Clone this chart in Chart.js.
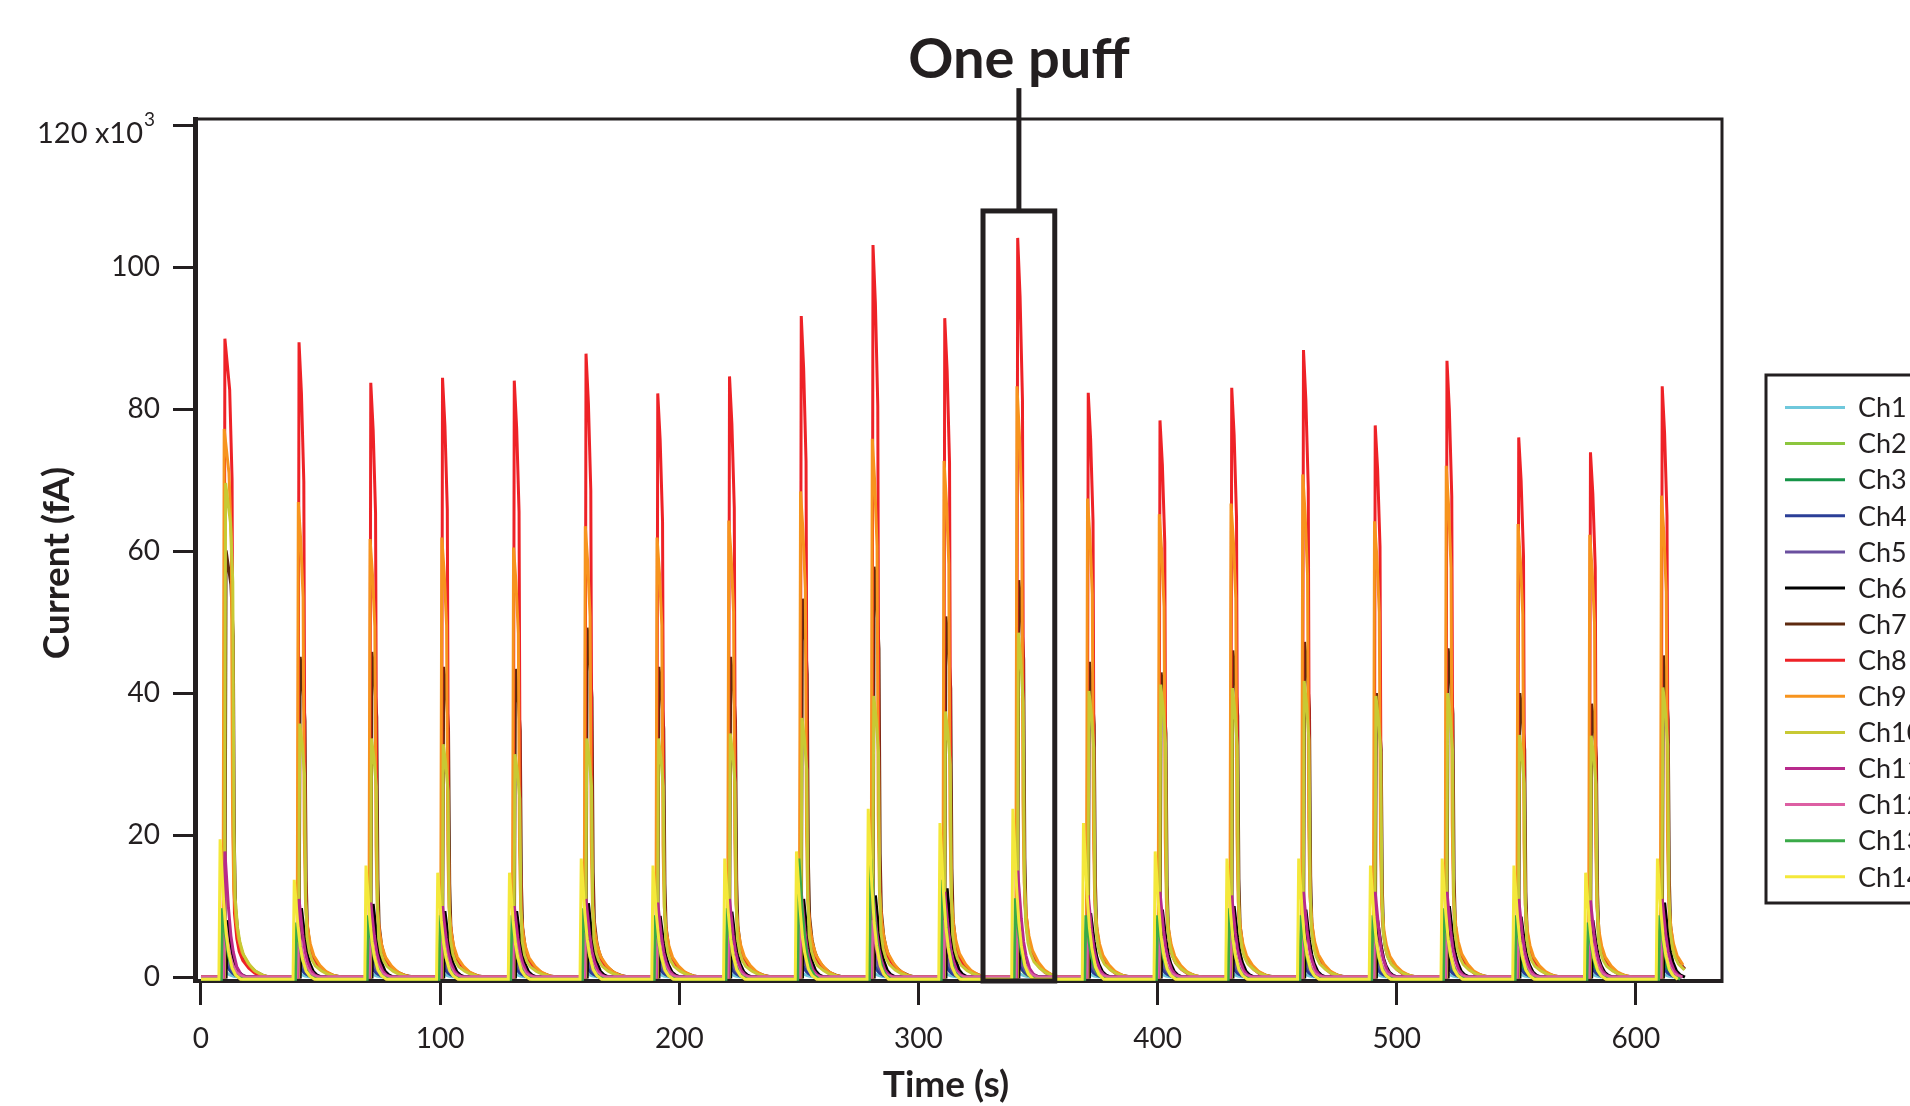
<!DOCTYPE html>
<html>
<head>
<meta charset="utf-8">
<title>Puff current per channel</title>
<script src="https://cdn.jsdelivr.net/npm/chart.js@4.4.1/dist/chart.umd.min.js"></script>
<style>
  html, body { margin: 0; padding: 0; background: #fff; }
  #wrap { width: 1910px; height: 1106px; }
</style>
</head>
<body>
<div id="wrap"><canvas id="puffs" width="1910" height="1106"></canvas></div>
<script>
var INK = '#231f20';
var FONT = 'Lato, "Noto Sans", sans-serif';

// puff onsets (s); puff 1 has a longer plateau
var puffStart = [9.5, 40.5, 70.5, 100.5, 130.5, 160.5, 190.5, 220.5, 250.5, 280.5, 310.5,
                 341, 370.5, 400.5, 430.5, 460.5, 490.5, 520.5, 550.5, 580.5, 610.5];
var puffHold = [1, 0, 0, 0, 0, 0, 0, 0, 0, 0, 0, 0, 0, 0, 0, 0, 0, 0, 0, 0, 0];
var recordEnd = 621.5;

// pulse profiles: seconds after onset / fraction of peak
var slowT  = [-0.5, 0, 0.5, 1.5, 2.5, 3, 3.5, 4.5, 5.5, 7, 9.5, 12, 15, 18];
var slowV  = [0, 0, 1, 0.92, 0.8, 0.3, 0.16, 0.1, 0.07, 0.045, 0.025, 0.012, 0.004, 0];
var sharpV = [0, 0, 1, 0.92, 0.78, 0.22, 0.1, 0.06, 0.04, 0.026, 0.014, 0.006, 0.002, 0];
var fastT  = [-0.5, 0, 0.5, 1, 2, 3, 4, 5.5, 7, 9];
var fastV  = [0, 0, 1, 0.85, 0.55, 0.33, 0.2, 0.08, 0.03, 0];

// peak current of each puff, x10^3 fA
var ch1Peaks  = [1.2, 0.8, 0.8, 0.8, 0.8, 0.9, 0.8, 0.8, 1.0, 1.0, 0.9, 1.0, 0.8, 0.8, 0.8, 0.8, 0.8, 0.8, 0.8, 0.8, 0.8];
var ch2Peaks  = [4, 3, 3, 3, 3, 3, 3, 3, 4, 4, 3.5, 3.5, 3, 3, 3, 3, 3, 3, 3, 3, 3];
var ch3Peaks  = [6, 5, 5, 5, 5, 5, 5, 5, 7, 7, 6, 6, 5, 5, 5, 5, 5, 5, 5, 5, 5];
var ch4Peaks  = [3, 2, 2, 2, 2, 2, 2, 2, 2.5, 2.5, 2.5, 3, 2, 2, 2, 2, 2, 2, 2, 2, 2];
var ch5Peaks  = [5, 4, 4, 4, 4, 4, 4, 4, 5, 5, 5, 5, 4, 4, 4, 4, 4, 5, 7, 6, 6];
var ch6Peaks  = [8, 9.7, 10.3, 9.3, 9.3, 10.4, 8.6, 9.2, 11, 11.5, 12.5, 6, 9, 9.5, 10, 9.5, 8, 10, 8.5, 8, 10.5];
var ch7Peaks  = [60.1, 45.1, 45.8, 43.7, 43.4, 49.2, 43.7, 45.1, 53.3, 57.8, 50.8, 55.9, 44.4, 42.9, 46, 47.2, 40, 46.3, 40, 38.5, 45.3];
var ch8Peaks  = [89.9, 89.4, 83.7, 84.4, 84, 87.8, 82.2, 84.6, 93.1, 103.1, 92.8, 104.1, 82.3, 78.4, 83, 88.3, 77.7, 86.8, 76, 73.9, 83.2];
var ch9Peaks  = [77.2, 66.9, 61.7, 61.9, 60.5, 63.5, 61.9, 64.3, 68.4, 75.8, 72.7, 83.2, 67.4, 65.2, 66.7, 70.8, 64.2, 72, 63.8, 62.3, 67.8];
var ch10Peaks = [69.6, 35.7, 33.6, 32.8, 31.4, 33.6, 33.6, 34.3, 36.5, 39.6, 37.4, 48.5, 40.3, 41.2, 40.7, 41.7, 39.6, 40, 34.1, 34, 40.8];
var ch11Peaks = [17.7, 11, 10.5, 10, 10, 11, 10.5, 11, 12, 12, 12, 15, 11.5, 12, 11.5, 12, 12, 12, 11, 10.8, 11];
var ch12Peaks = [9, 7, 7, 7, 7, 7, 7, 7, 8, 8, 8, 9, 7, 7, 7, 7, 7, 7, 7, 7, 7];
var ch13Peaks = [10, 8, 9, 9, 9, 10, 9, 10, 17, 17, 14, 11.4, 9, 9, 10, 9, 9, 10, 9, 8, 9];
var ch14Peaks = [19.7, 14, 16, 15, 15, 17, 16, 17, 18, 24, 22, 24, 22, 18, 17, 17, 16, 17, 16, 15, 17];

var channelNames  = ['Ch1', 'Ch2', 'Ch3', 'Ch4', 'Ch5', 'Ch6', 'Ch7', 'Ch8', 'Ch9', 'Ch10', 'Ch11', 'Ch12', 'Ch13', 'Ch14'];
var channelColors = ['#6fc8dc', '#8cc63e', '#159447', '#2b3f97', '#6a4f9f', '#000000', '#5e2a0f',
                     '#ee2227', '#f7941e', '#c8c934', '#b82a8c', '#dd5fa3', '#3aaa48', '#f4e83a'];
var channelPeaks  = [ch1Peaks, ch2Peaks, ch3Peaks, ch4Peaks, ch5Peaks, ch6Peaks, ch7Peaks,
                     ch8Peaks, ch9Peaks, ch10Peaks, ch11Peaks, ch12Peaks, ch13Peaks, ch14Peaks];
var channelLag    = [-1, -1, -1, -0.5, -0.5, 1, 0.5, 0, -0.3, 0.3, 0, -0.3, -1, -2];
var channelShape  = ['fast', 'fast', 'fast', 'fast', 'fast', 'fast', 'slow',
                     'sharp', 'slow', 'slow', 'fast', 'fast', 'fast', 'fast'];
var channelBase   = [0, 0, 0, 0, 0, 0, 0, 0, 0, 0, 0, 0, -0.3, -0.3];

var xTicks = [0, 100, 200, 300, 400, 500, 600];
var yTicks = [0, 20, 40, 60, 80, 100, 120];

// highlighted puff
var boxFrom = 327, boxTo = 357, boxTop = 107.9, leaderTop = 125.2;

function buildSeries(c) {
  var kind = channelShape[c];
  var slow = kind !== 'fast';
  var T = slow ? slowT : fastT;
  var V = kind === 'sharp' ? sharpV : (slow ? slowV : fastV);
  var base = channelBase[c];
  var pts = [{ x: 0, y: base }];
  puffStart.forEach(function (t0, p) {
    for (var k = 0; k < T.length; k++) {
      var hold = (slow && k > 2) ? puffHold[p] : 0;
      var x = t0 + channelLag[c] + T[k] + hold;
      if (x > recordEnd) break;
      pts.push({ x: x, y: base + channelPeaks[c][p] * V[k] });
    }
  });
  return pts;
}

var datasets = channelNames.map(function (name, c) {
  return {
    label: name,
    data: buildSeries(c),
    borderColor: channelColors[c],
    backgroundColor: channelColors[c],
    borderWidth: 3,
    pointRadius: 0,
    tension: 0,
    fill: false,
    order: channelNames.length - c
  };
});

var decorations = {
  id: 'decorations',
  afterDraw: function (chart) {
    var ctx = chart.ctx;
    var a = chart.chartArea;
    var xs = chart.scales.x, ys = chart.scales.y;
    ctx.save();
    ctx.strokeStyle = INK;
    ctx.fillStyle = INK;

    // top and right side of the frame
    ctx.lineWidth = 3;
    ctx.beginPath();
    ctx.moveTo(a.left - 2, a.top);
    ctx.lineTo(a.right, a.top);
    ctx.lineTo(a.right, a.bottom + 2);
    ctx.stroke();

    // top tick label with its exponent
    var y120 = ys.getPixelForValue(120);
    ctx.font = '29px ' + FONT;
    ctx.textAlign = 'right';
    ctx.textBaseline = 'alphabetic';
    ctx.fillText('120 x10', 143, y120 + 18);
    ctx.font = '19px ' + FONT;
    ctx.textAlign = 'left';
    ctx.fillText('3', 144, y120 + 1);

    // one-puff box with its leader
    var bx1 = xs.getPixelForValue(boxFrom), bx2 = xs.getPixelForValue(boxTo);
    var by = ys.getPixelForValue(boxTop);
    var mid = (bx1 + bx2) / 2;
    ctx.lineWidth = 5;
    ctx.strokeRect(bx1, by, bx2 - bx1, a.bottom - by);
    ctx.beginPath();
    ctx.moveTo(mid, by);
    ctx.lineTo(mid, ys.getPixelForValue(leaderTop));
    ctx.stroke();
    ctx.font = 'bold 56px ' + FONT;
    ctx.textAlign = 'center';
    ctx.fillText('One puff', mid, 78);

    // axis titles
    ctx.font = 'bold 37px ' + FONT;
    ctx.textBaseline = 'middle';
    ctx.fillText('Time (s)', 946, 1085);
    ctx.save();
    ctx.translate(57, 563);
    ctx.rotate(-Math.PI / 2);
    ctx.fillText('Current (fA)', 0, 0);
    ctx.restore();

    // legend
    var lx = 1766, ly = 375, lb = 903;
    ctx.lineWidth = 3;
    ctx.strokeRect(lx, ly, 200, lb - ly);
    ctx.font = '27px ' + FONT;
    ctx.textAlign = 'left';
    channelNames.forEach(function (name, c) {
      var y = 407.5 + c * 36.1;
      ctx.strokeStyle = channelColors[c];
      ctx.lineWidth = 3;
      ctx.beginPath();
      ctx.moveTo(1785, y);
      ctx.lineTo(1845, y);
      ctx.stroke();
      ctx.fillStyle = INK;
      ctx.fillText(name, 1858, y + 1);
    });
    ctx.restore();
  }
};

Chart.defaults.font.family = FONT;
Chart.defaults.color = INK;

new Chart(document.getElementById('puffs'), {
  type: 'line',
  data: { datasets: datasets },
  options: {
    animation: false,
    responsive: false,
    events: [],
    layout: { padding: { left: 0, right: 188, top: 119, bottom: 0 } },
    plugins: {
      legend: { display: false },
      tooltip: { enabled: false },
      title: { display: false }
    },
    scales: {
      x: {
        type: 'linear',
        min: -2.5,
        max: 636,
        afterFit: function (s) { s.height = 125; },
        afterBuildTicks: function (s) { s.ticks = xTicks.map(function (v) { return { value: v }; }); },
        ticks: { color: INK, font: { size: 28 }, padding: 17, maxRotation: 0, autoSkip: false },
        grid: { display: true, drawOnChartArea: false, drawTicks: true, tickLength: 24, tickWidth: 3, tickColor: INK },
        border: { display: true, color: INK, width: 4 }
      },
      y: {
        type: 'linear',
        min: -0.55,
        max: 120.85,
        afterFit: function (s) { s.width = 195; },
        afterBuildTicks: function (s) { s.ticks = yTicks.map(function (v) { return { value: v }; }); },
        ticks: {
          color: INK,
          font: { size: 28 },
          padding: 13,
          autoSkip: false,
          // the top label carries the exponent and is drawn by the plugin
          callback: function (v) { return v === 120 ? '' : String(v); }
        },
        grid: { display: true, drawOnChartArea: false, drawTicks: true, tickLength: 22, tickWidth: 3, tickColor: INK },
        border: { display: true, color: INK, width: 5 }
      }
    }
  },
  plugins: [decorations]
});
</script>
</body>
</html>
